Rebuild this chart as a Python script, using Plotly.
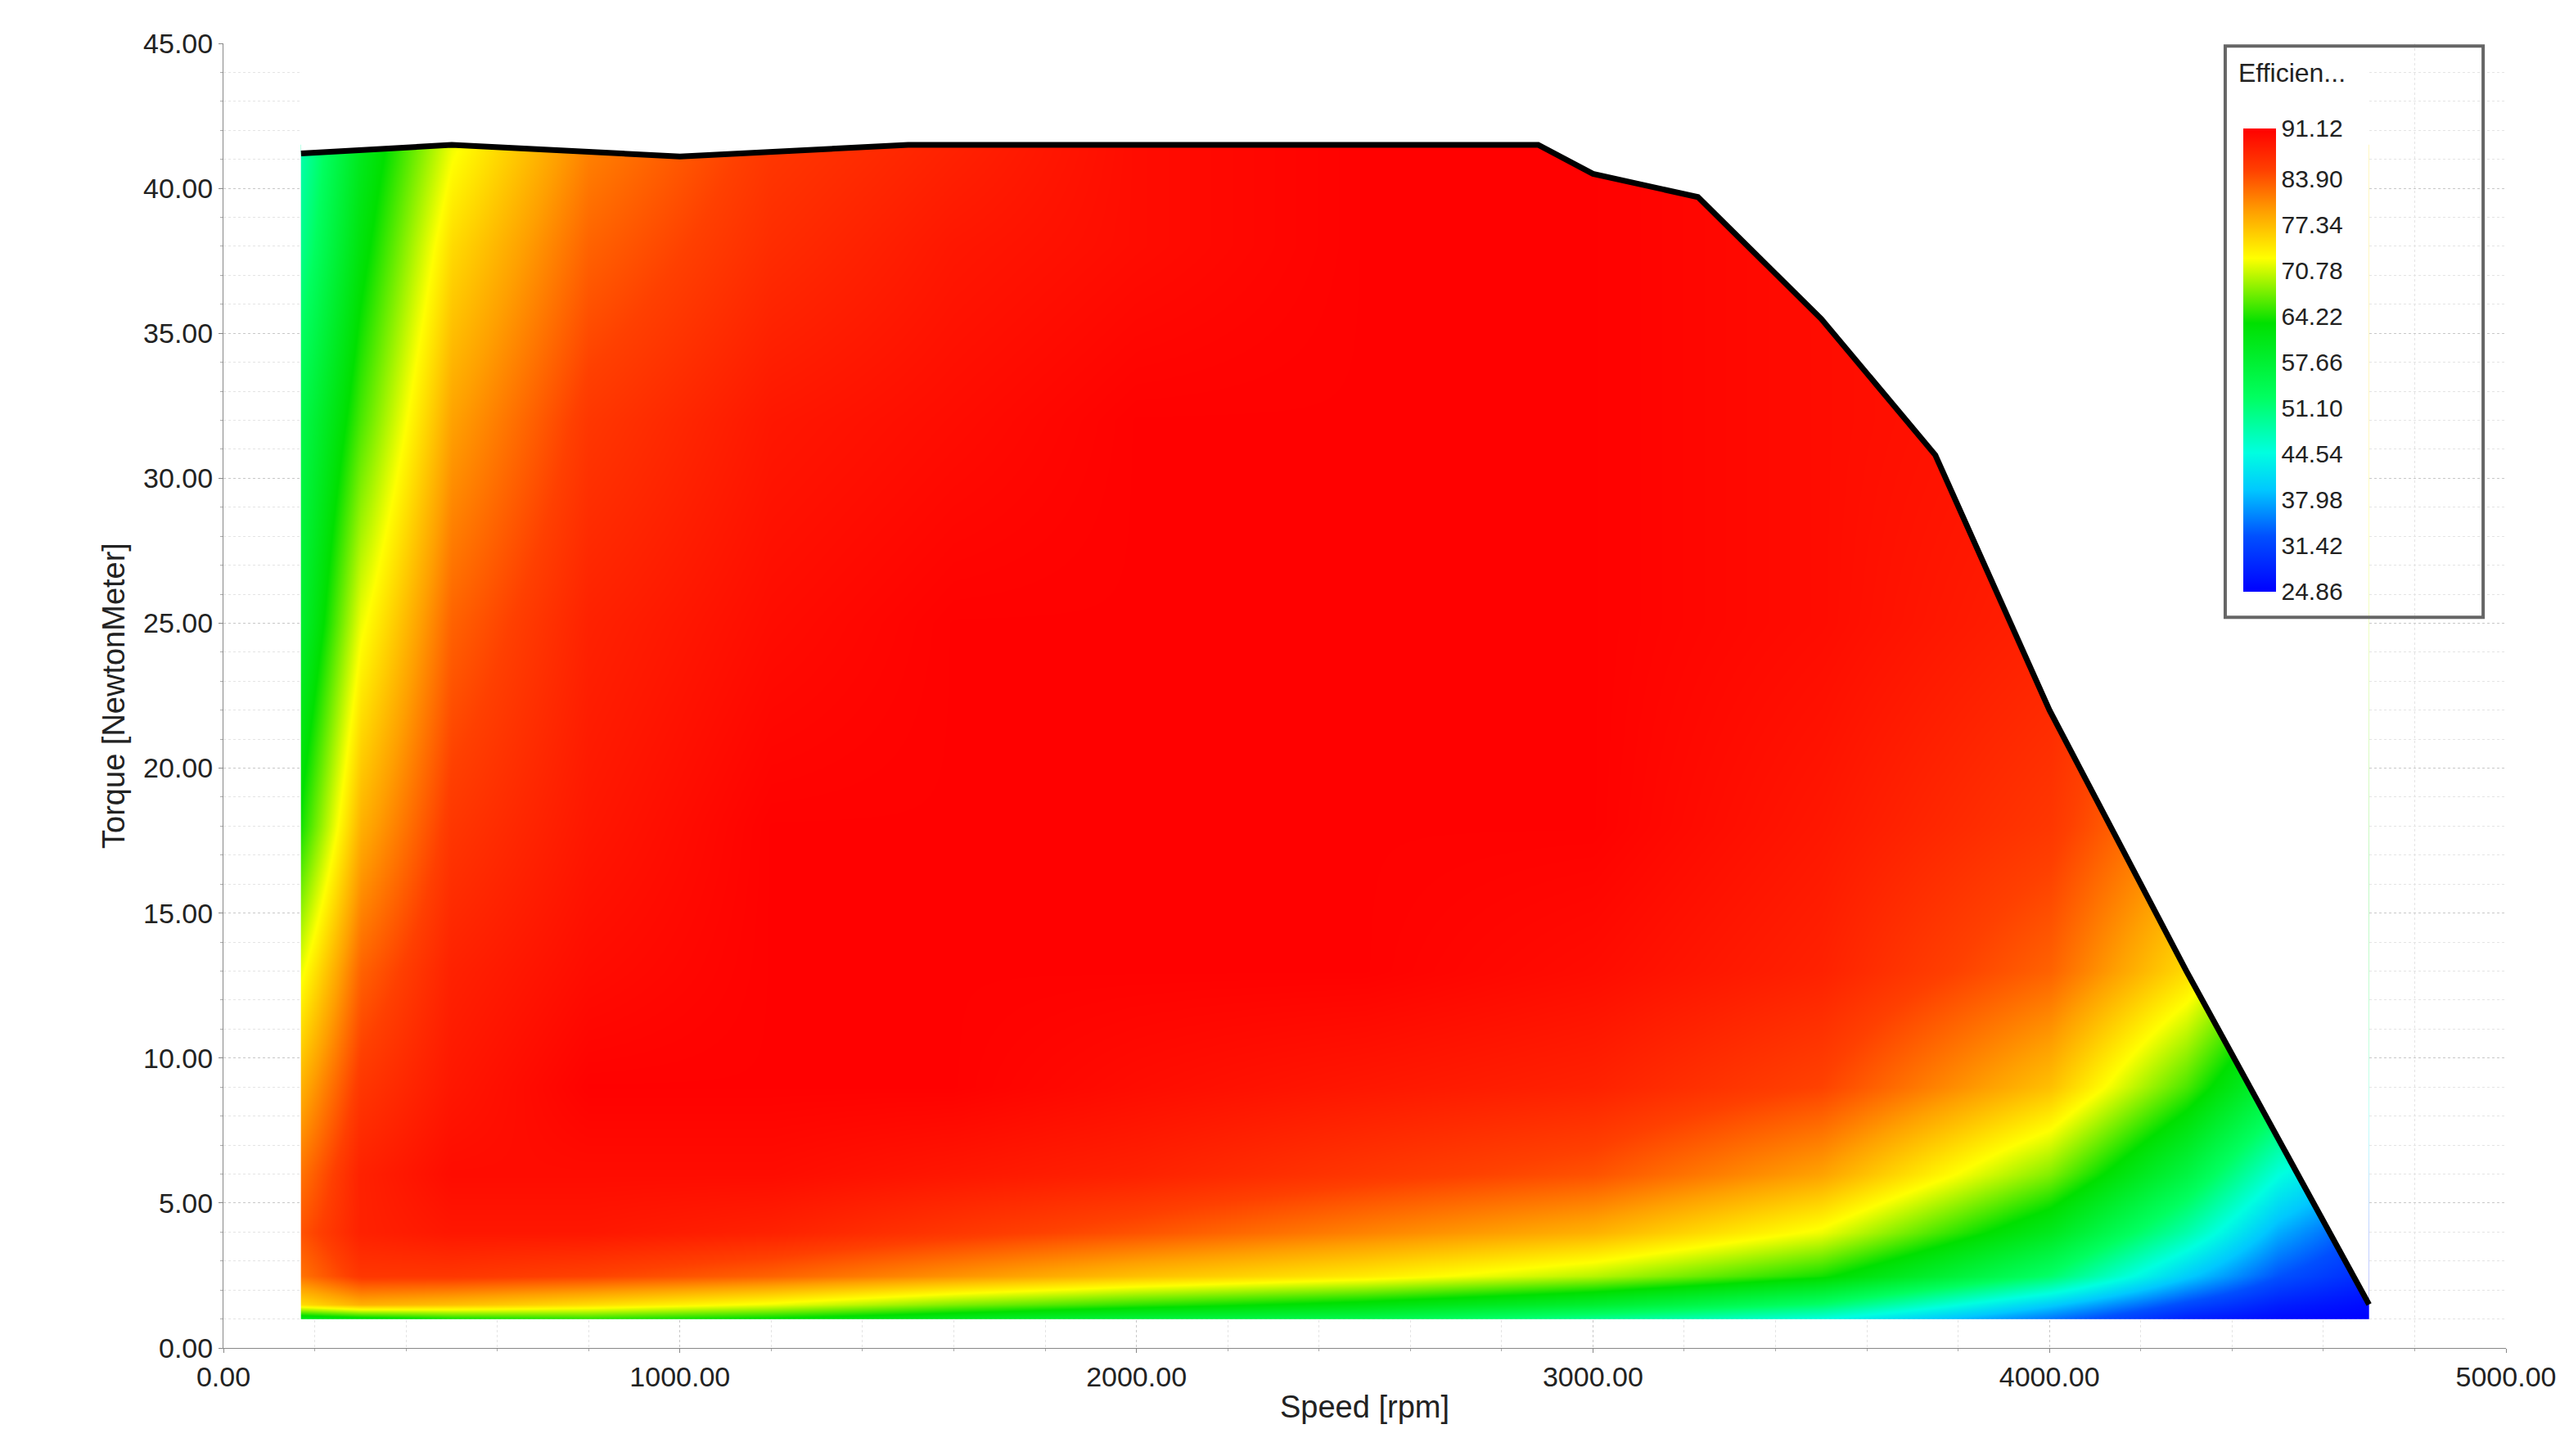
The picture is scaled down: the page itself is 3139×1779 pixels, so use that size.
import plotly.graph_objects as go

speeds = [170, 300, 500, 800, 1200, 1600, 2000, 2500, 3000, 3500, 4000, 4300, 4500, 4700]
torques = [1, 1.5, 2.5, 4, 6, 9, 13, 18, 25, 32, 38, 41.5]
eff = [
 [60,62,64,65,63,60,57,55,50,45,35,28,26,25],
 [75,78,77,75,72,68,65,62,58,52,40,32,28,26],
 [82,86,86,85,83,80,77,74,70,64,52,40,33,29],
 [84,88,89,89,88,86,84,81,78,72,60,48,38,32],
 [82,88,90,90,90,89,88,86,84,79,68,56,45,38],
 [78,86,89,91,91,91,90,89,88,85,77,66,56,48],
 [72,83,88,90,91,91,91,91,90,88,83,75,66,58],
 [64,78,86,89,91,91,91,91,91,89,86,80,72,65],
 [58,72,83,88,90,91,91,91,91,90,88,84,78,70],
 [55,66,79,86,89,90,91,91,91,90,89,86,80,75],
 [50,62,75,83,87,89,90,91,91,90,89,86,80,75],
 [48,60,72,81,86,88,90,91,91,90,89,86,80,75],
]
env_speed = [170, 500, 1000, 1500, 2880, 3000, 3230, 3500, 3750, 4000, 4300, 4700]
env_torque = [41.2, 41.5, 41.1, 41.5, 41.5, 40.5, 39.7, 35.5, 30.8, 22.0, 13.0, 1.5]
cb_ticks = [24.86, 31.42, 37.98, 44.54, 51.10, 57.66, 64.22, 70.78, 77.34, 83.90, 91.12]

xs = [speeds[0]] + [speeds[0] + 0.5] + speeds[1:-1] + [speeds[-1] - 0.5, speeds[-1]]
ys = [torques[0], torques[0] + 0.01] + torques[1:-1] + [torques[-1] - 0.01, torques[-1]]
zs_rows = [[r[0]] + r + [r[-1]] for r in eff]
zs = [zs_rows[0]] + zs_rows + [zs_rows[-1]]

cscale = [[0, "#0000ff"], [0.12, "#0050ff"], [0.22, "#00c8ff"], [0.3, "#00ffe0"],
          [0.42, "#00ff60"], [0.58, "#00e000"], [0.72, "#ffff00"], [0.82, "#ffa000"],
          [0.91, "#ff4000"], [1, "#ff0000"]]

fig = go.Figure()
fig.add_trace(go.Heatmap(x=xs, y=ys, z=zs, zsmooth="best", colorscale=cscale,
    zmin=24.86, zmax=91.12,
    colorbar=dict(tickvals=cb_ticks, ticktext=[f"{v:.2f}" for v in cb_ticks],
        tickfont=dict(size=30), ticklen=0,
        x=0.885, xanchor="left", y=0.935, yanchor="top", len=0.355, thickness=40,
        ypad=0, xpad=0, outlinewidth=0, bgcolor="rgba(0,0,0,0)")))
fig.add_trace(go.Scatter(x=env_speed + [4700, 4700, 170], y=env_torque + [1.0, 45, 45],
    fill="toself", fillcolor="white", line=dict(width=0), mode="lines",
    hoverinfo="skip", showlegend=False))
fig.add_trace(go.Scatter(x=env_speed, y=env_torque, mode="lines",
    line=dict(color="black", width=7), showlegend=False))

fig.add_shape(type="rect", xref="paper", yref="paper", x0=0.877, x1=0.99, y0=0.56, y1=0.998,
              line=dict(color="#666", width=4), layer="above")
fig.add_annotation(text="Efficien...", xref="paper", yref="paper", x=0.882, y=0.99,
                   xanchor="left", yanchor="top", showarrow=False, font=dict(size=32))

ax = dict(showgrid=True, gridcolor="#c8c8c8", griddash="dot", zeroline=False,
          showline=True, linecolor="#888", ticks="outside", tickcolor="#888",
          tickfont=dict(size=34), minor=dict(showgrid=True, gridcolor="#e4e4e4", ticks="outside", tickcolor="#aaa"))
fig.update_layout(width=3139, height=1779, plot_bgcolor="white", paper_bgcolor="white",
    font=dict(family="Liberation Sans", color="#222"),
    margin=dict(l=265, r=85, t=45, b=140),
    xaxis=dict(range=[0, 5000], dtick=1000, tickformat=".2f", title=dict(text="Speed [rpm]", font=dict(size=38), standoff=5), **ax),
    yaxis=dict(range=[0, 45], dtick=5, tickformat=".2f", title=dict(text="Torque [NewtonMeter]", font=dict(size=38), standoff=10), **ax))
fig.write_html("out.html")
